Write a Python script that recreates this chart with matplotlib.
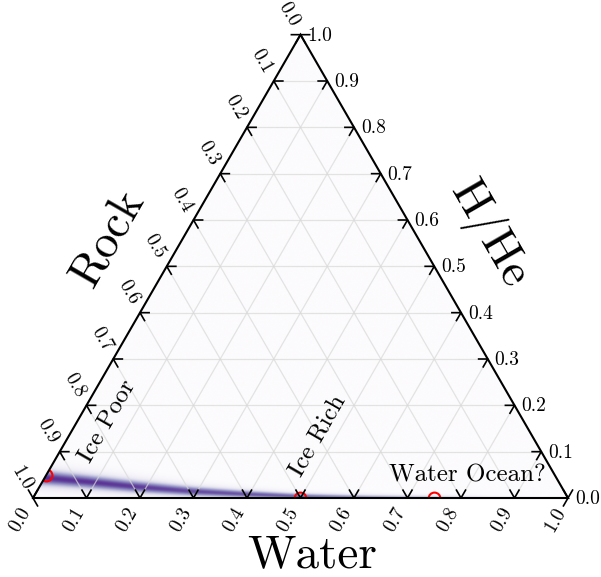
import matplotlib
matplotlib.use("Agg")
import matplotlib.pyplot as plt
from matplotlib.patches import Polygon
import numpy as np

plt.rcParams['font.family'] = ['cmr10', 'DejaVu Serif']
plt.rcParams['mathtext.fontset'] = 'cm'
plt.rcParams['axes.unicode_minus'] = False

# -----------------------------------------
# Data (ternary fractions: rock, water, H/He)
# -----------------------------------------
tick_values = [round(0.1 * i, 1) for i in range(11)]
axis_names = ["Rock", "Water", "H/He"]

# red circles (rock, water, hhe)
point_rock = [0.95, 0.50, 0.25]
point_water = [0.00, 0.50, 0.75]
point_hhe = [0.05, 0.00, 0.00]

# posterior band: centre line, spread and strength
band_water = [0.00, 0.08, 0.18, 0.29, 0.40, 0.50, 0.62, 0.75, 0.85, 0.95]
band_hhe = [0.043, 0.035, 0.024, 0.014, 0.0075, 0.003, 0.0015, 0.0008, 0.0005, 0.0003]
band_sigma = [0.010, 0.009, 0.008, 0.0065, 0.005, 0.004, 0.0032, 0.003, 0.003, 0.003]
band_level = [1.0, 1.0, 0.97, 0.92, 0.88, 0.82, 0.6, 0.35, 0.1, 0.0]

labels = ["Ice Poor", "Ice Rich", "Water Ocean?"]

S = np.sqrt(3) / 2


def to_xy(water, hhe):
    water = np.asarray(water, dtype=float)
    hhe = np.asarray(hhe, dtype=float)
    return water + hhe / 2, hhe * S


# -----------------------------------------
# Figure and axes
# -----------------------------------------
W, H = 601, 577
fig = plt.figure(figsize=(W / 100, H / 100), dpi=100)
ax = fig.add_axes([0, 0, 1, 1])
scale = 535.0
ax.set_xlim(-33 / scale, (W - 33) / scale)
ax.set_ylim(-(H - 498) / scale, 498 / scale)
ax.set_aspect('equal')
ax.axis('off')

tri = Polygon([[0, 0], [1, 0], [0.5, S]], closed=True, facecolor='none',
              edgecolor='none', transform=ax.transData)
ax.add_patch(tri)

# density field: sharp core plus faint halo
gx = np.linspace(0, 1, 1200)
gy = np.linspace(0, S, 1040)
X, Y = np.meshgrid(gx, gy)
hh = Y / S
ww = X - hh / 2
hc = np.interp(ww, band_water, band_hhe)
sg = np.interp(ww, band_water, band_sigma)
amp = np.interp(ww, band_water, band_level)
dens = amp * (np.exp(-0.5 * ((hh - hc) / sg) ** 2)
              + 0.22 * np.exp(-0.5 * ((hh - hc) / (1.9 * sg)) ** 2))
im = ax.imshow(dens, extent=[0, 1, 0, S], origin='lower', cmap='Purples',
               vmin=0, vmax=1.45, interpolation='bilinear', zorder=1)
im.set_clip_path(tri)

# grid lines
for v in tick_values[1:-1]:
    x0, y0 = to_xy([0, 1 - v], [v, v])
    ax.plot(x0, y0, color='#d9d9d9', lw=0.9, alpha=0.7, zorder=2)
    x1, y1 = to_xy([v, v], [0, 1 - v])
    ax.plot(x1, y1, color='#d9d9d9', lw=0.9, alpha=0.7, zorder=2)
    x2, y2 = to_xy([1 - v, 0], [0, 1 - v])
    ax.plot(x2, y2, color='#d9d9d9', lw=0.9, alpha=0.7, zorder=2)

# triangle edges
ax.plot([0, 1, 0.5, 0], [0, 0, S, 0], color='black', lw=1.5, zorder=5,
        solid_joinstyle='miter')

# ticks and tick labels
L = 0.017
for v in tick_values:
    # bottom (Water)
    px, py = v, 0.0
    ax.plot([px - 0.5 * L, px, px + 0.5 * L], [py + S * L, py, py + S * L],
            color='black', lw=1.2, zorder=6)
    ax.text(px - 0.5 * 0.047, py - S * 0.047, f"{v:.1f}", rotation=60,
            ha='center', va='center', fontsize=14, rotation_mode='anchor')
    # right (H/He)
    px, py = to_xy(1 - v, v)
    ax.plot([px - L, px, px - 0.5 * L], [py, py, py - S * L],
            color='black', lw=1.2, zorder=6)
    ax.text(px + 0.013, py - 0.002, f"{v:.1f}", ha='left', va='center',
            fontsize=14)
    # left (Rock)
    px, py = to_xy(0, 1 - v)
    ax.plot([px + L, px, px + 0.5 * L], [py, py, py - S * L],
            color='black', lw=1.2, zorder=6)
    ax.text(px - 0.5 * 0.043, py + S * 0.043, f"{v:.1f}", rotation=-60,
            ha='center', va='center', fontsize=14, rotation_mode='anchor')

# axis names
ax.text(0.14, 0.486, axis_names[0], rotation=60, ha='center', va='center',
        fontsize=34, rotation_mode='anchor')
ax.text(0.522, -0.108, axis_names[1], ha='center', va='center', fontsize=34)
ax.text(0.851, 0.492, axis_names[2], rotation=-60, ha='center', va='center',
        fontsize=34, rotation_mode='anchor')

# red circles
cx, cy = to_xy(point_water, point_hhe)
pts, = ax.plot(cx, cy, 'o', ms=8.5, mfc='none', mec='red', mew=1.5, zorder=4)
pts.set_clip_path(tri)

# annotations
ax.text(0.14, 0.144, labels[0], rotation=60, ha='center', va='center',
        fontsize=18, rotation_mode='anchor', zorder=7)
ax.text(0.533, 0.116, labels[1], rotation=60, ha='center', va='center',
        fontsize=18, rotation_mode='anchor', zorder=7)
ax.text(0.811, 0.043, labels[2], ha='center', va='center', fontsize=18,
        zorder=7)

fig.savefig("out.png", dpi=100)
